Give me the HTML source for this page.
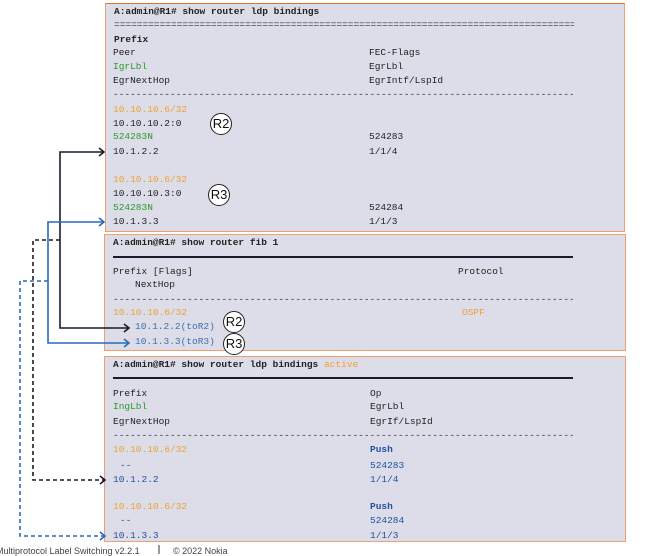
<!DOCTYPE html>
<html><head><style>
body{margin:0;width:649px;height:554px;background:#fff;position:relative;overflow:hidden;font-family:"Liberation Mono",monospace;}
.box{position:absolute;background:#dddde9;border:1.5px solid #f0a070;}
.t{position:absolute;font-size:9.5px;color:#222;white-space:pre;line-height:10px;}
.o{color:#f0a030}.g{color:#2a9a2a}.b{color:#2050a0}.bl{color:#3a70b0}
.d{position:absolute;font-size:9.5px;color:#333;white-space:pre;line-height:10px;width:460px;overflow:hidden}
.hl{position:absolute;height:0;border-top:2px solid #1a1a2a;}
.c{position:absolute;width:20px;height:20px;border:1.2px solid #222;border-radius:50%;background:#fff;font-family:"Liberation Sans",sans-serif;font-size:13px;text-align:center;line-height:20px;color:#111}
</style></head><body>
<div class="box" style="left:105px;top:3px;width:518px;height:227px;border-top-color:#e8702a"></div>
<div class="box" style="left:104px;top:234px;width:520px;height:115px"></div>
<div class="box" style="left:104px;top:356px;width:520px;height:184px"></div>

<div class="t" style="left:114px;top:7px;font-weight:bold">A:admin@R1# show router ldp bindings</div>
<div class="d" style="left:114px;top:20px">====================================================================================</div>
<div class="t" style="left:114px;top:35px;font-weight:bold">Prefix</div>
<div class="t" style="left:113px;top:48px">Peer</div><div class="t" style="left:369px;top:48px">FEC-Flags</div>
<div class="t g" style="left:113px;top:62px">IgrLbl</div><div class="t" style="left:369px;top:62px">EgrLbl</div>
<div class="t" style="left:113px;top:76px">EgrNextHop</div><div class="t" style="left:369px;top:76px">EgrIntf/LspId</div>
<div class="d" style="left:113px;top:90px">-----------------------------------------------------------------------------------</div>
<div class="t o" style="left:113px;top:105px">10.10.10.6/32</div>
<div class="t" style="left:113px;top:119px">10.10.10.2:0</div>
<div class="t g" style="left:113px;top:132px">524283N</div><div class="t" style="left:369px;top:132px">524283</div>
<div class="t" style="left:113px;top:147px">10.1.2.2</div><div class="t" style="left:369px;top:147px">1/1/4</div>
<div class="t o" style="left:113px;top:175px">10.10.10.6/32</div>
<div class="t" style="left:113px;top:189px">10.10.10.3:0</div>
<div class="t g" style="left:113px;top:203px">524283N</div><div class="t" style="left:369px;top:203px">524284</div>
<div class="t" style="left:113px;top:217px">10.1.3.3</div><div class="t" style="left:369px;top:217px">1/1/3</div>
<div class="c" style="left:210px;top:113px">R2</div>
<div class="c" style="left:208px;top:184px">R3</div>

<div class="t" style="left:113px;top:238px;font-weight:bold">A:admin@R1# show router fib 1</div>
<div class="hl" style="left:113px;top:256px;width:460px"></div>
<div class="t" style="left:113px;top:267px">Prefix [Flags]</div><div class="t" style="left:458px;top:267px">Protocol</div>
<div class="t" style="left:135px;top:280px">NextHop</div>
<div class="d" style="left:113px;top:295px">-----------------------------------------------------------------------------------</div>
<div class="t o" style="left:113px;top:308px">10.10.10.6/32</div><div class="t o" style="left:462px;top:308px">OSPF</div>
<div class="t bl" style="left:135px;top:322px">10.1.2.2(toR2)</div>
<div class="t bl" style="left:135px;top:337px">10.1.3.3(toR3)</div>
<div class="c" style="left:223px;top:311px">R2</div>
<div class="c" style="left:223px;top:333px">R3</div>

<div class="t" style="left:113px;top:360px;font-weight:bold">A:admin@R1# show router ldp bindings <span class="o" style="font-weight:normal">active</span></div>
<div class="hl" style="left:113px;top:377px;width:460px"></div>
<div class="t" style="left:113px;top:389px">Prefix</div><div class="t" style="left:370px;top:389px">Op</div>
<div class="t g" style="left:113px;top:402px">IngLbl</div><div class="t" style="left:370px;top:402px">EgrLbl</div>
<div class="t" style="left:113px;top:417px">EgrNextHop</div><div class="t" style="left:370px;top:417px">EgrIf/LspId</div>
<div class="d" style="left:113px;top:431px">-----------------------------------------------------------------------------------</div>
<div class="t o" style="left:113px;top:445px">10.10.10.6/32</div><div class="t b" style="left:370px;top:445px;font-weight:bold">Push</div>
<div class="t b" style="left:120px;top:461px">--</div><div class="t b" style="left:370px;top:461px">524283</div>
<div class="t b" style="left:113px;top:475px">10.1.2.2</div><div class="t b" style="left:370px;top:475px">1/1/4</div>
<div class="t o" style="left:113px;top:502px">10.10.10.6/32</div><div class="t b" style="left:370px;top:502px;font-weight:bold">Push</div>
<div class="t b" style="left:120px;top:516px">--</div><div class="t b" style="left:370px;top:516px">524284</div>
<div class="t b" style="left:113px;top:531px">10.1.3.3</div><div class="t b" style="left:370px;top:531px">1/1/3</div>

<svg width="649" height="554" style="position:absolute;left:0;top:0">
<g fill="none" stroke-width="1.6">
<polyline points="104,152 60,152 60,328 128,328" stroke="#1a1a2a"/>
<polyline points="104,222 48,222 48,343 128,343" stroke="#2a6ab8"/>
<polyline points="60,240 33,240 33,480 105,480" stroke="#1a1a2a" stroke-dasharray="4,3"/>
<polyline points="48,281 20,281 20,536 105,536" stroke="#2a6ab8" stroke-dasharray="4,3"/>
<polyline points="99,148 104,152 99,156" stroke="#1a1a2a"/>
<polyline points="99,218 104,222 99,226" stroke="#2a6ab8"/>
<polyline points="124,324 129,328 124,332" stroke="#1a1a2a"/>
<polyline points="124,339 129,343 124,347" stroke="#2a6ab8"/>
<polyline points="100,476 105,480 100,484" stroke="#1a1a2a"/>
<polyline points="100,532 105,536 100,540" stroke="#2a6ab8"/>
</g>
<line x1="159" y1="545" x2="159" y2="554" stroke="#333"/>
</svg>
<div style="position:absolute;left:-4px;top:546px;font-family:'Liberation Sans',sans-serif;font-size:9px;color:#444;white-space:pre">Multiprotocol Label Switching v2.2.1</div>
<div style="position:absolute;left:173px;top:546px;font-family:'Liberation Sans',sans-serif;font-size:9px;color:#444;white-space:pre">© 2022 Nokia</div>
</body></html>
